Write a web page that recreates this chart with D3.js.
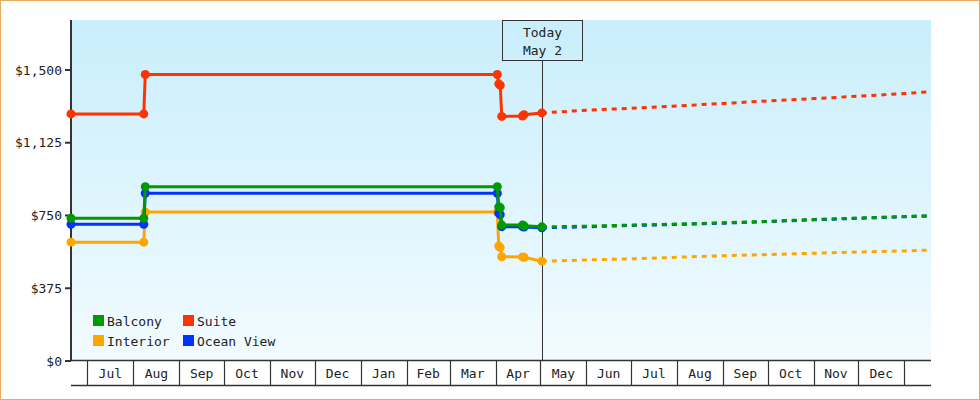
<!DOCTYPE html>
<meta charset="utf-8">
<script src="https://cdn.jsdelivr.net/npm/d3@7"></script>
<style>
body { margin: 0; background: #fff; }
text { font-family: "DejaVu Sans Mono", monospace; font-size: 13px; fill: #222; }
</style>
<svg id="chart" width="980" height="400"></svg>
<script>
// history dates shared by all series
var histDates = ["2023-06-20","2023-08-08","2023-08-09","2024-04-02","2024-04-03","2024-04-04","2024-04-05","2024-04-19","2024-04-20","2024-05-02"];
var suiteHist    = [1271, 1271, 1474, 1474, 1426, 1418, 1258, 1260, 1267, 1276];
var balconyHist  = [733, 733, 896, 896, 792, 788, 698, 698, 694, 689];
var oceanHist    = [702, 702, 862, 862, 760, 752, 690, 690, 688, 684];
var interiorHist = [610, 610, 765, 765, 590, 582, 535, 534, 532, 512];

// forecast after today
var fcDates = ["2024-05-02","2024-06-01","2024-07-01","2024-08-01","2024-09-01","2024-10-01","2024-11-01","2024-12-01","2025-01-01","2025-01-19"];
var suiteFc    = [1276, 1290, 1300, 1312, 1325, 1338, 1350, 1362, 1376, 1386];
var balconyFc  = [689, 692, 698, 703, 710, 717, 727, 734, 742, 746];
var oceanFc    = [684, 689, 696, 701, 708, 716, 725, 733, 741, 745];
var interiorFc = [512, 518, 524, 532, 540, 546, 553, 559, 565, 569];

var yTicks = [0, 375, 750, 1125, 1500];
var today = "2024-05-02";
var todayLabel = ["Today", "May 2"];

var parse = d3.timeParse("%Y-%m-%d");

var series = [
  {name: "Interior",   color: "#ffa500", hist: interiorHist, fc: interiorFc},
  {name: "Ocean View", color: "#0033ff", hist: oceanHist,    fc: oceanFc},
  {name: "Balcony",    color: "#009900", hist: balconyHist,  fc: balconyFc},
  {name: "Suite",      color: "#ff3300", hist: suiteHist,    fc: suiteFc}
];
var legendOrder = ["Balcony", "Suite", "Interior", "Ocean View"];

var svg = d3.select("#chart");
var pLeft = 71, pRight = 931, pTop = 20, pBottom = 360.5;

var x = d3.scaleTime()
  .domain([parse("2023-06-20"), parse("2025-01-19")])
  .range([pLeft, pRight]);
var y = d3.scaleLinear().domain([0, 1755]).range([pBottom, pTop]);

// outer border
svg.append("rect").attr("x", 0.5).attr("y", 0.5).attr("width", 979).attr("height", 399)
  .attr("fill", "#fff").attr("stroke", "#e8aa62");

var grad = svg.append("defs").append("linearGradient").attr("id", "bg")
  .attr("x1", 0).attr("y1", 0).attr("x2", 0).attr("y2", 1);
grad.append("stop").attr("offset", "0%").attr("stop-color", "#c9eefc");
grad.append("stop").attr("offset", "100%").attr("stop-color", "#f2fbff");

svg.append("rect").attr("x", pLeft).attr("y", pTop)
  .attr("width", pRight - pLeft).attr("height", pBottom - pTop).attr("fill", "url(#bg)");

// x axis month cells
var months = d3.timeMonth.range(d3.timeMonth.ceil(x.domain()[0]), x.domain()[1]);
var xg = svg.append("g");
xg.append("line").attr("x1", pLeft).attr("x2", pRight).attr("y1", 360.5).attr("y2", 360.5)
  .attr("stroke", "#333").attr("stroke-width", 1.5);
xg.append("line").attr("x1", pLeft).attr("x2", pRight).attr("y1", 385.5).attr("y2", 385.5)
  .attr("stroke", "#333").attr("stroke-width", 1.5);
xg.selectAll(".sep").data(months).enter().append("line")
  .attr("x1", d => Math.round(x(d)) + 0.5).attr("x2", d => Math.round(x(d)) + 0.5)
  .attr("y1", 360).attr("y2", 385).attr("stroke", "#333").attr("stroke-width", 1.2);
xg.selectAll(".mlab").data(months.slice(0, -1)).enter().append("text")
  .attr("x", d => (x(d) + x(d3.timeMonth.offset(d, 1))) / 2)
  .attr("y", 378).attr("text-anchor", "middle")
  .text(d3.timeFormat("%b"));

// y axis
var yAxis = d3.axisLeft(y).tickValues(yTicks).tickSize(6).tickFormat(d3.format("$,"));
var yg = svg.append("g").attr("transform", "translate(" + pLeft + ",0)").call(yAxis);
yg.select(".domain").remove();
yg.selectAll(".tick line").attr("stroke", "#333").attr("stroke-width", 2);
yg.selectAll(".tick text").attr("x", -9).attr("dy", "0.35em")
  .style("font-family", "DejaVu Sans Mono, monospace").style("font-size", "13px").attr("fill", "#222");
svg.append("line").attr("x1", pLeft).attr("x2", pLeft).attr("y1", pTop).attr("y2", 361)
  .attr("stroke", "#333").attr("stroke-width", 2);

// today marker
var tx = Math.round(x(parse(today))) + 0.5;
svg.append("line").attr("x1", tx).attr("x2", tx).attr("y1", 60).attr("y2", 360)
  .attr("stroke", "#333").attr("stroke-width", 1);
svg.append("rect").attr("x", tx - 40).attr("y", 20.5).attr("width", 80).attr("height", 40)
  .attr("fill", "none").attr("stroke", "#333").attr("stroke-width", 1);
svg.selectAll(".tlab").data(todayLabel).enter().append("text")
  .attr("x", tx).attr("y", (d, i) => 37 + i * 18).attr("text-anchor", "middle").text(d => d);

var line = d3.line().x(d => x(d[0])).y(d => y(d[1]));

series.forEach(function(s) {
  var h = histDates.map((d, i) => [parse(d), s.hist[i]]);
  var f = fcDates.map((d, i) => [parse(d), s.fc[i]]);
  svg.append("path").datum(f).attr("d", line).attr("fill", "none")
    .attr("stroke", s.color).attr("stroke-width", 3).attr("stroke-dasharray", "5,5");
  svg.append("path").datum(h).attr("d", line).attr("fill", "none")
    .attr("stroke", s.color).attr("stroke-width", 3);
  svg.selectAll(null).data(h).enter().append("circle")
    .attr("cx", d => x(d[0])).attr("cy", d => y(d[1])).attr("r", 4.5)
    .attr("fill", s.color);
});

// legend
var lg = svg.append("g");
legendOrder.forEach(function(n, i) {
  var s = series.find(d => d.name === n);
  var lx = 93 + (i % 2) * 90, ly = 315 + Math.floor(i / 2) * 20;
  lg.append("rect").attr("x", lx).attr("y", ly).attr("width", 11).attr("height", 11).attr("fill", s.color);
  lg.append("text").attr("x", lx + 14).attr("y", ly + 10.5).text(n);
});
</script>
